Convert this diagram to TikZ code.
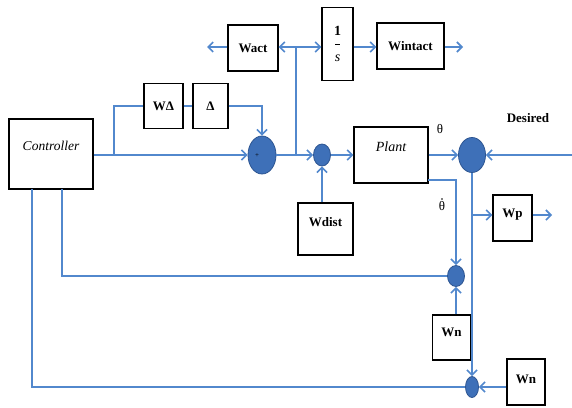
\documentclass[tikz,border=0pt]{standalone}
\usepackage{fontspec}
\setmainfont{Liberation Serif}
\usetikzlibrary{arrows.meta,shapes.geometric}
\definecolor{wirec}{RGB}{82,136,205}
\definecolor{sumfill}{RGB}{62,112,184}
\definecolor{sumedge}{RGB}{45,85,145}
\begin{document}
\begin{tikzpicture}[x=1pt,y=-1pt,
  blk/.style={draw=black, line width=1.4pt, inner sep=0pt, fill=white,
    font=\fontsize{13}{15}\selectfont\bfseries},
  sumc/.style={ellipse, draw=sumedge, fill=sumfill, line width=0.8pt, inner sep=0pt},
  wire/.style={draw=wirec, line width=1.6pt},
  arr/.style={wire, -{Straight Barb[length=5pt,width=10pt,line width=1.6pt]}},
  lab/.style={inner sep=0pt, font=\fontsize{13}{15}\selectfont}
]
\useasboundingbox (0,0) rectangle (572,407);

% blocks
\node[blk, minimum width=84pt, minimum height=70pt,
  label={[yshift=8pt,font=\fontsize{13.5}{15}\selectfont\itshape]center:Controller}] (ctrl) at (51,154) {};
\node[blk, minimum width=39pt, minimum height=45pt] (wdelta) at (163.5,106) {WΔ};
\node[blk, minimum width=35pt, minimum height=45pt] (delta) at (210.5,106) {Δ};
\node[blk, minimum width=50pt, minimum height=46pt] (wact) at (253,48) {Wact};
\node[blk, minimum width=31pt, minimum height=73pt, align=center,
  font=\fontsize{14}{16}\selectfont] (inv) at (337.5,44) {\textbf{1}\\[-3pt]\rule[4pt]{5pt}{0.7pt}\\[-3pt]\textit{s}};
\node[blk, minimum width=67pt, minimum height=46pt] (wintact) at (410.5,46) {Wintact};
\node[blk, minimum width=74pt, minimum height=56pt,
  label={[yshift=8pt,font=\fontsize{14}{16}\selectfont\itshape]center:Plant}] (plant) at (391,155) {};
\node[blk, minimum width=55pt, minimum height=52pt,
  label={[yshift=7pt,font=\fontsize{13}{15}\selectfont\bfseries]center:Wdist}] (wdist) at (325.5,229) {};
\node[blk, minimum width=39pt, minimum height=46pt,
  label={[yshift=3pt,font=\fontsize{13}{15}\selectfont\bfseries]center:Wp}] (wp) at (512.5,218) {};
\node[blk, minimum width=38pt, minimum height=45pt,
  label={[yshift=5pt,font=\fontsize{13}{15}\selectfont\bfseries]center:Wn}] (wn1) at (451.5,337.5) {};
\node[blk, minimum width=38pt, minimum height=46pt,
  label={[yshift=3pt,font=\fontsize{13}{15}\selectfont\bfseries]center:Wn}] (wn2) at (526,382) {};

% summing junctions
\node[sumc, minimum width=28pt, minimum height=38pt] (s1) at (262,155) {};
\node[inner sep=0pt, font=\scriptsize] (plus) at (257,156) {+};
\node[sumc, minimum width=17pt, minimum height=22pt] (s2) at (322,155) {};
\node[sumc, minimum width=27pt, minimum height=35pt] (s3) at (472,155) {};
\node[sumc, minimum width=17pt, minimum height=21pt] (s4) at (456,276) {};
\node[sumc, minimum width=13pt, minimum height=21pt] (s5) at (472,387) {};

% labels
\node[lab] (th) at (440,129) {θ};
\node[lab] (thd) at (442,206) {θ};
\fill[black] ([yshift=2.2pt]thd.north) circle (0.8pt);
\node[lab, font=\fontsize{13}{15}\selectfont\bfseries] (des) at (528,118) {Desired};

% coordinates
\coordinate (jA) at (114,155);
\coordinate (jB) at (296,155);
\coordinate (jT) at (296,47);
\coordinate (wactout) at (207,47);
\coordinate (wintout) at (463,47);
\coordinate (desin) at (572,155);
\coordinate (pbr) at (428,180);
\coordinate (jP) at (472,215);
\coordinate (wpout) at (552,215);
\coordinate (cb1) at (62,189);
\coordinate (cb2) at (32,189);

% connectors
\draw[arr] (ctrl.east |- jA) -- (s1.west);
\draw[wire] (jA) |- (wdelta.west);
\draw[wire] (wdelta.east) -- (delta.west);
\draw[arr] (delta.east) -| (s1.north);
\draw[arr] (s1.east) -- (s2.west);
\draw[wire] (jB) -- (jT);
\draw[arr] (jT) -- (wact.east |- jT);
\draw[arr] (wact.west |- jT) -- (wactout);
\draw[arr] (jT) -- (inv.west |- jT);
\draw[arr] (inv.east |- jT) -- (wintact.west |- jT);
\draw[arr] (wintact.east |- jT) -- (wintout);
\draw[arr] (wdist.north -| s2) -- (s2.south);
\draw[arr] (s2.east) -- (plant.west);
\draw[arr] (plant.east) -- (s3.west);
\draw[arr] (desin) -- (s3.east);
\draw[arr] (pbr) -| (s4.north);
\draw[arr] (s3.south) -- (s5.north);
\draw[arr] (jP) -- (wp.west |- jP);
\draw[arr] (wp.east |- jP) -- (wpout);
\draw[arr] (wn1.north -| s4) -- (s4.south);
\draw[wire] (s4.west) -| (cb1);
\draw[arr] (wn2.west |- s5) -- (s5.east);
\draw[wire] (s5.west) -| (cb2);
\end{tikzpicture}
\end{document}
